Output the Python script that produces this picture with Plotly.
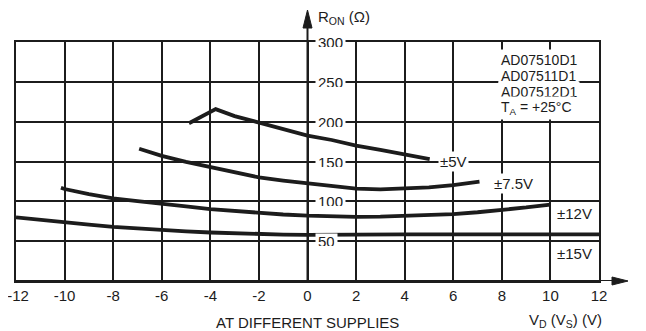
import plotly.graph_objects as go

# ---- data ----
x_tick_vals = [-12, -10, -8, -6, -4, -2, 0, 2, 4, 6, 8, 10, 12]
y_tick_vals = [50, 100, 150, 200, 250, 300]

x_5v = [-4.88, -3.78, -3, -2, -1, 0, 1, 2, 3, 4, 5.03]
r_5v = [198, 215.7, 207, 199, 190.5, 182.5, 177, 170, 164.5, 159, 153]

x_75v = [-6.93, -6, -5, -4, -3, -2, -1, 0, 1, 2, 3, 4, 5, 6, 7.08]
r_75v = [166, 157, 149.5, 142.7, 136, 130, 126, 122.5, 118.5, 116, 115, 116, 117.5, 120.4, 124.6]

x_12v = [-10.15, -10, -9, -8, -7, -6, -5, -4, -3, -2, -1, 0, 1, 2, 3, 4, 5, 6, 7, 8, 9, 10]
r_12v = [117, 115.5, 109, 103.7, 100.3, 97.4, 93.6, 90.2, 87.7, 85.6, 83.5, 82, 81, 80.5, 80.7,
         81.4, 82.5, 84, 86.3, 89, 92.3, 96]

x_15v = [-12, -11, -10, -9, -8, -7, -6, -5, -4, -3, -2, -1, 0, 1, 2, 4, 6, 8, 10, 12]
r_15v = [79.8, 76.5, 73.5, 70.7, 68, 65.8, 63.8, 62.2, 60.9, 59.7, 58.8, 58.2, 57.9, 57.8, 58.2,
         58.4, 58.5, 58.5, 58.5, 58.5]

curve_labels = ["±5V", "±7.5V", "±12V", "±15V"]
label_x = [6, 8.5, 11, 11]
label_y = [150, 123, 85, 35]

legend_lines = ["AD07510D1", "AD07511D1", "AD07512D1", "T<sub>A</sub> = +25°C"]
legend_y = [277, 257, 237, 217]

INK = "#1c1c1c"
FONT = "Liberation Sans, Arial, sans-serif"

fig = go.Figure()
for xs, ys in [(x_5v, r_5v), (x_75v, r_75v), (x_12v, r_12v), (x_15v, r_15v)]:
    fig.add_trace(go.Scatter(x=xs, y=ys, mode="lines",
                             line=dict(color=INK, width=3.8), showlegend=False,
                             hoverinfo="skip"))

# curve labels
for t, lx, ly in zip(curve_labels, label_x, label_y):
    fig.add_annotation(x=lx, y=ly, text=t, showarrow=False, bgcolor="white",
                       font=dict(size=15, color=INK, family=FONT), borderpad=1)

# legend block
for t, ly in zip(legend_lines, legend_y):
    fig.add_annotation(x=7.84, y=ly, text=t, showarrow=False, xanchor="left",
                       bgcolor="white", font=dict(size=14, color=INK, family=FONT),
                       borderpad=2)

# y tick labels beside the vertical axis (short white box breaks the grid line)
for v in y_tick_vals:
    fig.add_annotation(x=0, y=v, text=str(v), showarrow=False, xanchor="left",
                       yanchor="middle", xshift=7, borderpad=2, height=10,
                       bgcolor="white", valign="middle",
                       font=dict(size=15, color=INK, family=FONT))

# axis titles
fig.add_annotation(x=0, y=300, text="R<sub>ON</sub> (Ω)",
                   showarrow=False, xanchor="left", yanchor="middle", xshift=8, yshift=25,
                   font=dict(size=15, color=INK, family=FONT))
fig.add_annotation(x=0, y=0, text="AT DIFFERENT SUPPLIES",
                   showarrow=False, yanchor="middle", yshift=-41,
                   font=dict(size=15, color=INK, family=FONT))
fig.add_annotation(x=1.0086, xref="paper", y=0, yref="y",
                   text="V<sub>D</sub> (V<sub>S</sub>) (V)", showarrow=False,
                   yanchor="middle", yshift=-39, font=dict(size=15, color=INK, family=FONT))

# vertical axis line through x=0 with arrow
fig.add_shape(type="line", xref="x", yref="paper", x0=0, x1=0, y0=0, y1=1.06,
              line=dict(color=INK, width=2))
fig.add_shape(type="path", xref="x", yref="paper", xsizemode="pixel", ysizemode="pixel",
              xanchor=0, yanchor=1, path="M 0 32 L -4.5 14 L 4.5 14 Z",
              fillcolor=INK, line=dict(color=INK, width=1))
# horizontal axis extension with arrow
fig.add_shape(type="line", xref="paper", yref="y", x0=0, x1=1.04, y0=0, y1=0,
              line=dict(color=INK, width=2))
fig.add_shape(type="path", xref="paper", yref="paper", xsizemode="pixel", ysizemode="pixel",
              xanchor=1, yanchor=0, path="M 29 0 L 13 4 L 13 -4 Z",
              fillcolor=INK, line=dict(color=INK, width=1))

# first tick label nudged (non-breaking space) so it stays inside the page edge
x_tick_text = [("\u00a0" + str(v)) if i == 0 else str(v) for i, v in enumerate(x_tick_vals)]

fig.update_layout(
    width=638, height=323,
    margin=dict(l=8, r=47, t=34, b=50, autoexpand=False),
    paper_bgcolor="white", plot_bgcolor="white",
    font=dict(family=FONT, color=INK, size=15),
    xaxis=dict(range=[-12, 12], tickvals=x_tick_vals,
               ticktext=x_tick_text, automargin=False,
               ticklabeloverflow="allow",
               showgrid=True, gridcolor=INK, gridwidth=2, zeroline=False,
               showline=True, mirror=True, linecolor=INK, linewidth=2,
               ticks="", tickfont=dict(size=15, color=INK, family=FONT)),
    yaxis=dict(range=[0, 300], tickvals=y_tick_vals, showticklabels=False,
               automargin=False,
               showgrid=True, gridcolor=INK, gridwidth=2, zeroline=False,
               showline=True, mirror=True, linecolor=INK, linewidth=2, ticks=""),
)

fig.write_html("out.html")
